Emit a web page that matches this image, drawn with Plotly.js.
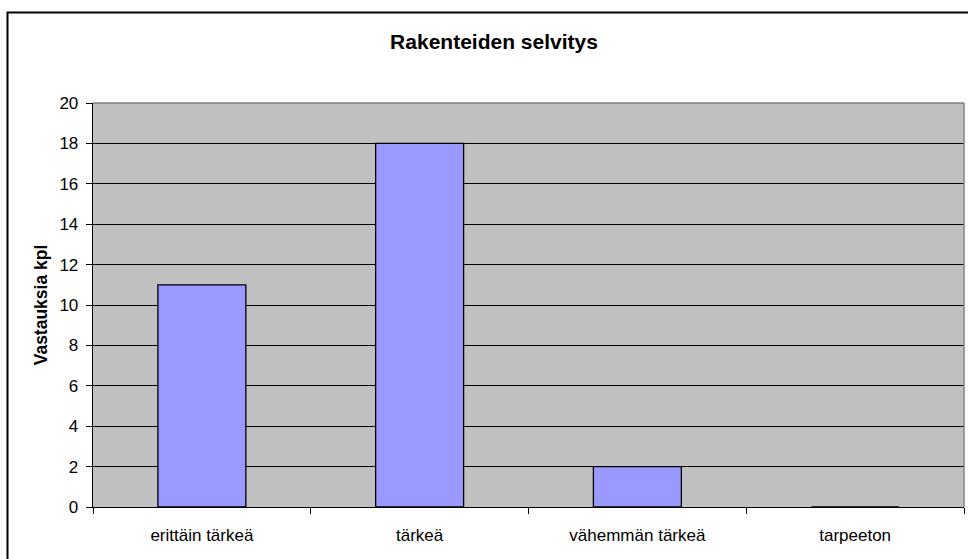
<!DOCTYPE html>
<html>
<head>
<meta charset="utf-8">
<script src="https://cdn.plot.ly/plotly-3.0.1.min.js"></script>
<style>html,body{margin:0;padding:0;background:#fff;}#chart{width:968px;height:559px;}</style>
</head>
<body>
<div id="chart"></div>
<script>
const categories = ["erittäin tärkeä", "tärkeä", "vähemmän tärkeä", "tarpeeton"];
const responses = [11, 18, 2, 0];
const yTickValues = [0, 2, 4, 6, 8, 10, 12, 14, 16, 18, 20];
const chartTitle = "Rakenteiden selvitys";
const yTitle = "Vastauksia kpl";

const FONT = '"Liberation Sans", Arial, sans-serif';
const W = 968, H = 559;
const M = {l: 93, r: 4, t: 103, b: 52};
const pw = W - M.l - M.r, ph = H - M.t - M.b;
function px(x) { return (x - M.l) / pw; }
function py(y) { return (H - M.b - y) / ph; }

const trace = {
  type: 'bar',
  x: categories,
  y: responses,
  marker: {color: '#9999FF', line: {color: '#000000', width: 1.3}},
  hoverinfo: 'x+y'
};

const layout = {
  width: W, height: H,
  margin: M,
  paper_bgcolor: '#FFFFFF',
  plot_bgcolor: '#C0C0C0',
  font: {family: FONT, color: '#000000', size: 17},
  showlegend: false,
  bargap: 0.596,
  title: {
    text: chartTitle,
    font: {family: FONT, size: 21, weight: 'bold', color: '#000000'},
    x: px(494), xref: 'paper', xanchor: 'center',
    y: 1 - 42 / H, yref: 'container', yanchor: 'middle'
  },
  xaxis: {
    type: 'category',
    tickson: 'boundaries',
    ticks: 'outside', ticklen: 6, tickcolor: '#000000', tickwidth: 1,
    showline: true, linecolor: '#000000', linewidth: 1.3,
    showgrid: false, zeroline: false,
    tickfont: {family: FONT, size: 17, color: '#000000'},
    ticklabelstandoff: 12,
    fixedrange: true
  },
  yaxis: {
    range: [0, 20],
    tickvals: yTickValues,
    ticktext: yTickValues.map(String),
    ticks: 'outside', ticklen: 6, tickcolor: '#000000', tickwidth: 1,
    showline: true, linecolor: '#000000', linewidth: 1.3,
    showgrid: true, gridcolor: '#000000', gridwidth: 1,
    zeroline: false,
    tickfont: {family: FONT, size: 17, color: '#000000'},
    ticklabelstandoff: 4,
    title: {text: yTitle, font: {family: FONT, size: 17.5, weight: 'bold', color: '#000000'}, standoff: 7},
    fixedrange: true
  },
  shapes: [
    {type: 'line', xref: 'paper', yref: 'paper', x0: 0, x1: 1, y0: 1, y1: 1,
     line: {color: '#808080', width: 1.5}, layer: 'above'},
    {type: 'line', xref: 'paper', yref: 'paper', x0: 1, x1: 1, y0: 0, y1: 1,
     line: {color: '#808080', width: 1.5}, layer: 'above'},
    {type: 'rect', xref: 'paper', yref: 'paper',
     x0: px(7.5), x1: px(980), y0: py(12.5), y1: py(575),
     line: {color: '#000000', width: 2}, fillcolor: 'rgba(0,0,0,0)', layer: 'above'}
  ]
};

Plotly.newPlot('chart', [trace], layout, {displayModeBar: false, staticPlot: true});
</script>
</body>
</html>
